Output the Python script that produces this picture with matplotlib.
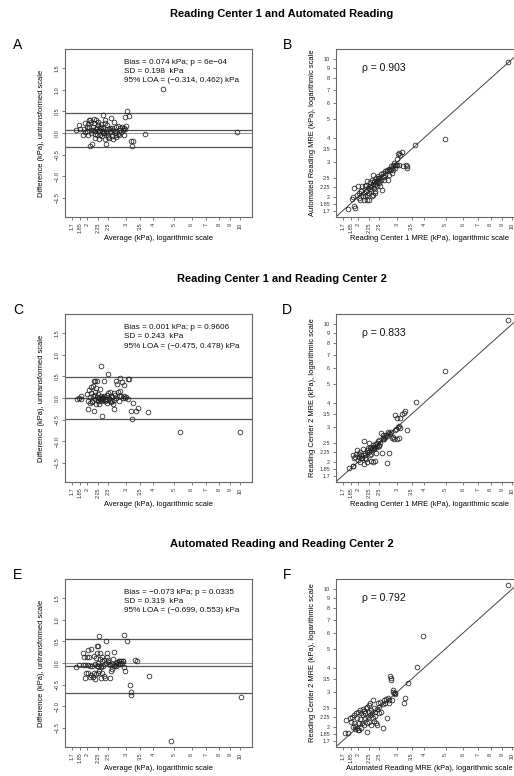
import matplotlib
matplotlib.use('Agg')
import matplotlib.pyplot as plt
from matplotlib.ticker import FixedLocator, FixedFormatter, NullLocator

plt.rcParams['font.family'] = ['Liberation Sans', 'DejaVu Sans']

# ---------------- data ----------------
row_titles = ["Reading Center 1 and Automated Reading",
              "Reading Center 1 and Reading Center 2",
              "Automated Reading and Reading Center 2"]
panel_letters = ["A", "B", "C", "D", "E", "F"]

log_ticks = [1.7, 1.85, 2, 2.25, 2.5, 3, 3.5, 4, 5, 6, 7, 8, 9, 10]
log_tick_labels = ['1.7', '1.85', '2', '2.25', '2.5', '3', '3.5', '4', '5', '6', '7', '8', '9', '10']
diff_ticks = [-1.5, -1.0, -0.5, 0.0, 0.5, 1.0, 1.5]
diff_tick_labels = ['\u22121.5', '\u22121.0', '\u22120.5', '0.0', '0.5', '1.0', '1.5']

# Panel A: average / difference (RC1 - AR)
a_avg = [1.77, 1.84, 1.86, 1.91, 1.95, 1.96, 1.99, 2.00, 2.01, 2.03, 2.04, 2.05, 2.06, 2.08, 2.09, 2.11,
         2.12, 2.14, 2.15, 2.17, 2.18, 2.20, 2.21, 2.22, 2.24, 2.25, 2.26, 2.28, 2.29, 2.31, 2.33, 2.34,
         2.36, 2.37, 2.38, 2.40, 2.42, 2.44, 2.44, 2.46, 2.48, 2.50, 2.51, 2.53, 2.55, 2.57, 2.59, 2.60,
         2.62, 2.65, 2.67, 2.69, 2.71, 2.72, 2.75, 2.77, 2.79, 2.81, 2.83, 2.86, 2.89, 2.92, 2.94, 2.96,
         2.98, 3.00, 3.03, 3.09, 3.16, 3.21, 3.25, 3.67, 4.43, 9.66,
         1.93, 2.02, 2.07, 2.13, 2.16, 2.19, 2.23, 2.27, 2.30, 2.35, 2.39, 2.41, 2.45, 2.52, 2.58, 2.63,
         2.70, 2.97]
a_diff = [0.08, 0.18, 0.09, -0.04, 0.02, 0.22, 0.13, 0.04, -0.04, 0.29, 0.15, -0.29, 0.31, 0.08, 0.00, -0.25,
          0.15, 0.32, 0.22, 0.04, -0.12, 0.29, 0.12, -0.04, 0.19, 0.04, -0.14, 0.12, -0.04, 0.21, 0.04, -0.08,
          0.12, 0.42, 0.00, 0.31, -0.15, 0.02, -0.25, 0.19, -0.04, -0.09, 0.09, 0.02, 0.12, 0.35, -0.08, 0.12,
          -0.15, 0.25, 0.00, 0.04, 0.15, -0.09, 0.17, -0.02, -0.04, 0.06, 0.12, 0.02, 0.15, 0.06, 0.12, -0.04,
          0.37, 0.17, 0.50, 0.39, -0.19, -0.31, -0.19, -0.02, 1.02, 0.02,
          0.10, 0.20, 0.26, 0.06, -0.02, 0.10, 0.25, 0.07, 0.15, -0.01, 0.05, 0.23, 0.10, -0.12, 0.05, 0.08,
          -0.05, 0.10]
a_bias, a_sd, a_loa = 0.074, 0.198, (-0.314, 0.462)

# Panel B: RC1 vs AR
b_x = [1.80, 1.875, 1.896, 1.921, 1.942, 1.915, 1.976, 1.997, 2.011, 2.025, 2.046, 2.069, 2.083, 2.098,
       2.120, 2.127, 2.142, 2.157, 2.172, 2.188, 2.203, 2.219, 2.234, 2.242, 2.258, 2.274, 2.290, 2.306,
       2.314, 2.330, 2.346, 2.355, 2.371, 2.380, 2.396, 2.413, 2.430, 2.447, 2.464, 2.481, 2.499, 2.526,
       2.552, 2.570, 2.588, 2.606, 2.624, 2.643, 2.661, 2.709, 2.738, 2.757, 2.776, 2.805, 2.834, 2.854,
       2.874, 2.895, 2.915, 2.936, 2.957, 2.977, 2.998, 3.019, 3.040, 3.061, 3.083, 3.116, 3.171, 3.193,
       3.307, 3.330, 3.342, 3.623, 4.964, 9.62,
       2.05, 2.18, 2.26, 2.35, 2.42, 2.50, 2.55, 2.62, 2.70, 2.85, 2.20, 2.30, 2.45, 2.39, 2.33]
b_y = [1.740, 1.957, 1.988, 1.788, 1.754, 2.218, 2.051, 2.262, 2.091, 1.972, 1.935, 2.132, 2.262, 2.011,
       1.935, 2.091, 2.262, 2.011, 2.132, 1.935, 2.399, 2.218, 2.091, 1.935, 2.370, 2.262, 2.132, 2.011,
       2.446, 2.335, 2.594, 2.218, 2.399, 2.091, 2.307, 2.494, 2.262, 2.399, 2.564, 2.353, 2.494, 2.262,
       2.446, 2.175, 2.544, 2.645, 2.524, 2.697, 2.574, 2.697, 2.446, 2.773, 2.594, 2.729, 2.861, 2.645,
       2.894, 2.751, 2.975, 2.805, 2.917, 2.917, 3.118, 2.917, 3.318, 3.344, 2.917, 3.280, 3.371, 2.861,
       2.917, 2.805, 2.861, 3.689, 3.943, 9.73,
       2.15, 2.30, 2.20, 2.38, 2.35, 2.40, 2.60, 2.45, 2.75, 2.80, 2.05, 2.25, 2.50, 2.15, 2.05]
b_rho = 0.903

# Panel C: average / difference (RC1 - RC2)
c_avg = [1.79, 1.84, 1.87, 1.88, 1.99, 2.01, 2.01, 2.04, 2.05, 2.06, 2.08, 2.09, 2.11, 2.12, 2.12, 2.14,
         2.15, 2.16, 2.18, 2.18, 2.19, 2.20, 2.21, 2.21, 2.23, 2.25, 2.26, 2.28, 2.29, 2.30, 2.31, 2.32,
         2.33, 2.33, 2.34, 2.36, 2.38, 2.38, 2.40, 2.43, 2.44, 2.46, 2.48, 2.50, 2.51, 2.53, 2.55, 2.57,
         2.59, 2.60, 2.62, 2.64, 2.66, 2.68, 2.70, 2.72, 2.74, 2.76, 2.78, 2.79, 2.81, 2.83, 2.85, 2.87,
         2.92, 2.94, 2.96, 2.98, 3.02, 3.06, 3.08, 3.12, 3.18, 3.21, 3.23, 3.34, 3.43, 3.80, 5.32, 10.03,
         2.10, 2.17, 2.24, 2.27, 2.30, 2.35, 2.37, 2.42, 2.45, 2.52, 2.56, 2.65]
c_diff = [-0.02, 0.00, 0.04, -0.02, 0.09, -0.08, -0.25, 0.19, -0.12, 0.02, 0.12, 0.25, -0.06, 0.27, 0.04, -0.29,
          0.39, 0.15, -0.02, 0.40, -0.13, 0.22, 0.39, 0.02, -0.06, 0.09, -0.14, -0.02, 0.21, 0.04, -0.08, 0.73,
          -0.42, 0.00, -0.02, 0.02, 0.39, 0.04, -0.06, -0.05, -0.02, -0.12, 0.56, 0.11, -0.02, 0.14, -0.06, 0.04,
          -0.08, 0.02, -0.14, -0.25, -0.04, 0.08, 0.39, 0.00, 0.32, 0.14, -0.08, 0.04, 0.46, 0.17, 0.04, 0.37,
          0.00, 0.04, 0.29, 0.00, 0.02, -0.02, 0.45, 0.44, -0.31, -0.49, -0.12, -0.29, -0.23, -0.32, -0.79, -0.79,
          -0.10, 0.06, -0.04, 0.00, -0.03, -0.05, 0.00, -0.03, 0.07, 0.00, -0.09, 0.12]
c_bias, c_sd, c_loa = 0.001, 0.243, (-0.475, 0.478)

# Panel D: RC1 vs RC2
d_x = [1.811, 1.889, 1.896, 1.902, 1.921, 1.942, 1.955, 1.976, 1.997, 2.011, 2.025, 2.032, 2.046, 2.069,
       2.083, 2.098, 2.120, 2.135, 2.142, 2.157, 2.172, 2.188, 2.203, 2.219, 2.234, 2.250, 2.266, 2.274,
       2.282, 2.298, 2.314, 2.330, 2.346, 2.355, 2.371, 2.380, 2.396, 2.413, 2.430, 2.447, 2.464, 2.481,
       2.499, 2.526, 2.552, 2.570, 2.588, 2.606, 2.624, 2.643, 2.670, 2.709, 2.738, 2.757, 2.776, 2.805,
       2.834, 2.854, 2.884, 2.905, 2.936, 2.957, 2.977, 2.998, 3.019, 3.040, 3.061, 3.083, 3.094, 3.116,
       3.171, 3.227, 3.284, 3.342, 3.66, 4.964, 9.62,
       2.20, 2.28, 2.36, 2.42, 2.50, 2.60, 2.70, 2.30, 2.15, 2.05]
d_y = [1.853, 1.897, 1.905, 2.168, 2.084, 2.125, 2.185, 2.299, 2.044, 2.193, 2.125, 2.004, 2.254, 2.168,
       2.084, 2.327, 1.943, 2.555, 2.168, 2.210, 2.067, 2.299, 2.004, 2.363, 2.254, 2.487, 2.168, 2.345,
       2.020, 2.391, 2.327, 2.438, 2.004, 2.391, 2.345, 2.457, 2.012, 2.228, 2.487, 2.391, 2.555, 2.419,
       2.585, 2.506, 2.796, 2.210, 2.658, 2.742, 2.616, 2.689, 2.742, 1.966, 2.852, 2.210, 2.796, 2.763,
       2.829, 2.658, 2.689, 2.616, 3.445, 2.909, 2.943, 2.616, 3.337, 3.025, 3.061, 2.658, 2.990, 3.337,
       3.498, 3.540, 3.609, 2.909, 4.012, 5.777, 10.52,
       2.25, 2.30, 2.33, 2.40, 2.45, 2.62, 2.72, 2.20, 2.10, 2.10]
d_rho = 0.833

# Panel E: average / difference (AR - RC2)
e_avg = [1.78, 1.83, 1.91, 1.92, 1.94, 1.95, 1.96, 1.98, 1.99, 2.01, 2.01, 2.02, 2.04, 2.05, 2.06, 2.08,
         2.09, 2.11, 2.12, 2.14, 2.15, 2.17, 2.18, 2.19, 2.20, 2.21, 2.21, 2.22, 2.23, 2.24, 2.25, 2.25,
         2.26, 2.27, 2.28, 2.29, 2.30, 2.31, 2.32, 2.33, 2.33, 2.34, 2.36, 2.38, 2.39, 2.41, 2.43, 2.44,
         2.45, 2.46, 2.48, 2.50, 2.51, 2.53, 2.55, 2.57, 2.59, 2.60, 2.62, 2.64, 2.66, 2.68, 2.70, 2.72,
         2.74, 2.76, 2.78, 2.79, 2.81, 2.83, 2.85, 2.87, 2.90, 2.92, 2.94, 2.96, 2.98, 3.04, 3.13, 3.16,
         3.18, 3.32, 3.36, 3.82, 4.84, 10.07]
e_diff = [-0.09, -0.04, -0.05, 0.23, 0.14, -0.05, -0.35, -0.22, 0.13, 0.31, -0.05, -0.23, 0.15, -0.32, -0.06, 0.32,
          -0.27, -0.06, -0.32, -0.22, 0.17, -0.02, -0.37, 0.12, -0.25, -0.08, 0.40, 0.23, -0.23, 0.00, 0.40, -0.08,
          0.62, -0.19, 0.09, 0.23, -0.10, -0.35, -0.08, 0.04, 0.13, -0.22, -0.06, -0.31, 0.06, -0.35, 0.00, 0.52,
          0.23, 0.15, 0.06, 0.02, -0.02, -0.35, -0.04, -0.19, -0.14, -0.02, 0.09, -0.08, 0.25, -0.04, 0.00, -0.08,
          0.02, -0.02, 0.04, 0.04, -0.02, 0.00, 0.04, 0.00, 0.04, 0.04, 0.65, -0.09, -0.19, 0.50, -0.52, -0.68,
          -0.73, 0.06, 0.04, -0.29, -1.81, -0.79]
e_bias, e_sd, e_loa = -0.073, 0.319, (-0.699, 0.553)

# Panel F: AR vs RC2
f_x = [1.736, 1.80, 1.760, 1.843, 1.862, 1.875, 1.889, 1.908, 1.915, 1.928, 1.942, 1.955, 1.969, 1.976,
       1.990, 1.997, 2.011, 2.025, 2.039, 2.046, 2.061, 2.069, 2.083, 2.098, 2.113, 2.120, 2.127, 2.142,
       2.157, 2.172, 2.188, 2.195, 2.203, 2.219, 2.234, 2.242, 2.250, 2.266, 2.274, 2.282, 2.298, 2.314,
       2.330, 2.346, 2.355, 2.363, 2.380, 2.396, 2.413, 2.430, 2.447, 2.464, 2.481, 2.499, 2.526, 2.552,
       2.588, 2.606, 2.624, 2.661, 2.680, 2.709, 2.738, 2.757, 2.776, 2.795, 2.815, 2.834, 2.854, 2.874,
       2.895, 2.915, 2.936, 2.957, 3.249, 3.284, 3.354, 3.686, 3.939, 9.62]
f_y = [1.853, 1.868, 2.168, 2.210, 2.125, 2.254, 2.004, 2.084, 2.299, 1.943, 2.020, 2.345, 1.966, 2.210,
       2.391, 1.927, 2.084, 1.927, 2.438, 2.185, 1.966, 2.345, 2.084, 2.457, 2.299, 2.419, 2.044, 2.210,
       2.363, 2.487, 2.084, 1.890, 2.536, 2.254, 2.391, 2.125, 2.585, 2.299, 2.637, 2.044, 2.438, 2.363,
       2.210, 2.742, 2.487, 2.150, 2.391, 2.273, 2.084, 2.457, 2.044, 2.658, 2.536, 2.345, 2.689, 2.391,
       1.966, 2.616, 2.742, 2.637, 2.763, 2.210, 2.796, 2.742, 2.637, 3.609, 3.540, 3.470, 2.742, 3.086,
       3.025, 2.990, 2.943, 2.967, 2.637, 2.796, 3.337, 4.028, 5.777, 10.48]
f_rho = 0.792

ba_xlabel = "Average (kPa), logarithmic scale"
ba_ylabel = "Difference (kPa), untransformed scale"
sc_xlabels = ["Reading Center 1 MRE (kPa), logarithmic scale",
              "Reading Center 1 MRE (kPa), logarithmic scale",
              "Automated Reading MRE (kPa), logarithmic scale"]
sc_ylabels = ["Automated Reading MRE (kPa), logarithmic scale",
              "Reading Center 2 MRE (kPa), logarithmic scale",
              "Reading Center 2 MRE (kPa), logarithmic scale"]

# ---------------- layout / style ----------------
W, H = 514, 776
fig = plt.figure(figsize=(W / 100, H / 100), dpi=100)

LOG_LIM = (1.581, 11.29)
DIFF_LIM = (-1.944, 1.944)
FRAME = '#666666'
PT = dict(marker='o', linestyle='none', mfc='none', mec='#222222', mew=0.55, ms=3.4)


def add_ax(x0, y0, x1, y1):
    return fig.add_axes([x0 / W, 1 - y1 / H, (x1 - x0) / W, (y1 - y0) / H])


def ftext(x, y, s, **kw):
    fig.text(x / W, 1 - y / H, s, **kw)


def style(ax):
    for sp in ax.spines.values():
        sp.set_color(FRAME)
        sp.set_linewidth(0.8)
    ax.tick_params(length=2.5, width=0.6, color=FRAME, labelsize=4, pad=1.5, labelcolor='#333333')


def log_xaxis(ax):
    ax.set_xscale('log')
    ax.set_xlim(*LOG_LIM)
    ax.xaxis.set_major_locator(FixedLocator(log_ticks))
    ax.xaxis.set_major_formatter(FixedFormatter(log_tick_labels))
    ax.xaxis.set_minor_locator(NullLocator())
    for lab in ax.get_xticklabels():
        lab.set_rotation(90)


BA_X = (65, 251.5)
SC_X = (335.7, 523.4)
ROWS = [(49, 217), (314, 482), (579, 747)]

ba_data = [(a_avg, a_diff, a_bias, a_sd, a_loa, "6e\u221204"),
           (c_avg, c_diff, c_bias, c_sd, c_loa, "0.9606"),
           (e_avg, e_diff, e_bias, e_sd, e_loa, "0.0335")]
sc_data = [(b_x, b_y, b_rho), (d_x, d_y, d_rho), (f_x, f_y, f_rho)]


def fmt(v):
    return ("%.3f" % v).replace('-', '\u2212')


for i, (y0, y1) in enumerate(ROWS):
    # row title
    ftext(282, y0 - 35, row_titles[i], ha='center', va='center', fontsize=8, fontweight='bold')
    ftext(18, y0 - 4, panel_letters[2 * i], ha='center', va='center', fontsize=10)
    ftext(287, y0 - 4, panel_letters[2 * i + 1], ha='center', va='center', fontsize=10)

    # Bland-Altman panel
    avg, diff, bias, sd, loa, pval = ba_data[i]
    ax = add_ax(BA_X[0], y0, BA_X[1], y1)
    style(ax)
    ax.axhline(0, color='#9a9a9a', lw=0.8, zorder=1)
    ax.axhline(bias, color='#555555', lw=0.9, zorder=1)
    ax.axhline(loa[0], color='#555555', lw=0.9, zorder=1)
    ax.axhline(loa[1], color='#555555', lw=0.9, zorder=1)
    ax.plot(avg, diff, zorder=3, **PT)
    log_xaxis(ax)
    ax.set_ylim(*DIFF_LIM)
    ax.yaxis.set_major_locator(FixedLocator(diff_ticks))
    ax.yaxis.set_major_formatter(FixedFormatter(diff_tick_labels))
    for lab in ax.get_yticklabels():
        lab.set_rotation(90)
        lab.set_va('center')
    lines = ["Bias = %s kPa; p = %s" % (fmt(bias), pval),
             "SD = %.3f  kPa" % sd,
             "95%% LOA = (%s, %s) kPa" % (fmt(loa[0]), fmt(loa[1]))]
    for k, s in enumerate(lines):
        ftext(124, y0 + 13 + 9.5 * k, s, ha='left', va='center', fontsize=5.9, color='#111111')
    ftext((BA_X[0] + BA_X[1]) / 2, y1 + 22, ba_xlabel, ha='center', va='center', fontsize=5.4)
    ftext(42, (y0 + y1) / 2, ba_ylabel, ha='center', va='center', rotation=90, fontsize=5.4)

    # scatter panel
    sx, sy, rho = sc_data[i]
    ax2 = add_ax(SC_X[0], y0, SC_X[1], y1)
    style(ax2)
    ax2.plot(LOG_LIM, LOG_LIM, color='#444444', lw=0.7, zorder=1)
    ax2.plot(sx, sy, zorder=3, **PT)
    log_xaxis(ax2)
    ax2.set_yscale('log')
    ax2.set_ylim(*LOG_LIM)
    ax2.yaxis.set_major_locator(FixedLocator(log_ticks))
    ax2.yaxis.set_major_formatter(FixedFormatter(log_tick_labels))
    ax2.yaxis.set_minor_locator(NullLocator())
    ftext(362, y0 + 19, "\u03c1 = %.3f" % rho, ha='left', va='center', fontsize=7.5, color='#111111')
    ftext((SC_X[0] + SC_X[1]) / 2, y1 + 22, sc_xlabels[i], ha='center', va='center', fontsize=5.4)
    ftext(312, (y0 + y1) / 2, sc_ylabels[i], ha='center', va='center', rotation=90, fontsize=5.4)

fig.savefig('out.png', dpi=100)
